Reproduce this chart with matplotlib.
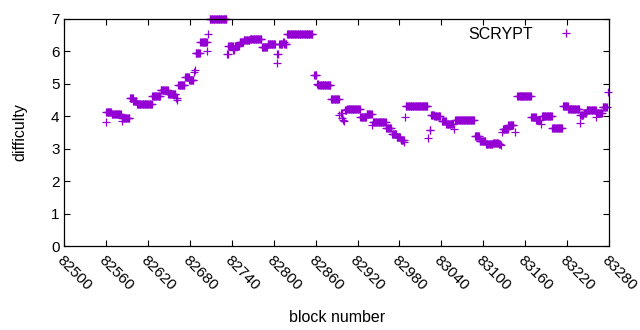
import numpy as np
import matplotlib
matplotlib.use("Agg")
import matplotlib.pyplot as plt

plt.rcParams['font.family'] = ['Liberation Sans', 'DejaVu Sans']

# difficulty stays flat over runs of blocks: first block, last block, difficulty
seg_start = [82559, 82560, 82568, 82582, 82583, 82594, 82599, 82604, 82626, 82638,
             82649, 82660, 82662, 82663, 82673, 82679, 82686, 82687, 82688, 82695,
             82705, 82706, 82708, 82733, 82735, 82742, 82744, 82751, 82757, 82766,
             82783, 82791, 82804, 82805, 82808, 82813, 82815, 82819, 82858, 82862,
             82864, 82882, 82894, 82896, 82898, 82899, 82901, 82902, 82905, 82924,
             82933, 82941, 82942, 82961, 82969, 82976, 82982, 82987, 82988, 82989,
             83021, 83023, 83025, 83030, 83041, 83047, 83058, 83060, 83088, 83095,
             83104, 83114, 83122, 83126, 83127, 83128, 83136, 83145, 83149, 83169,
             83176, 83183, 83184, 83199, 83214, 83222, 83238, 83239, 83244, 83248,
             83262, 83263, 83271, 83279]
seg_end = [82559, 82567, 82581, 82582, 82593, 82598, 82603, 82625, 82637, 82648,
           82659, 82661, 82662, 82672, 82678, 82685, 82686, 82687, 82694, 82704,
           82705, 82706, 82732, 82734, 82741, 82743, 82750, 82756, 82765, 82782,
           82790, 82802, 82804, 82806, 82812, 82814, 82818, 82855, 82861, 82863,
           82881, 82893, 82894, 82897, 82898, 82899, 82901, 82904, 82923, 82932,
           82940, 82941, 82960, 82968, 82975, 82981, 82986, 82987, 82988, 83020,
           83021, 83024, 83029, 83038, 83046, 83056, 83058, 83087, 83094, 83103,
           83113, 83121, 83124, 83126, 83127, 83135, 83143, 83145, 83168, 83175,
           83181, 83183, 83198, 83213, 83221, 83237, 83238, 83243, 83247, 83261,
           83262, 83270, 83277, 83279]
seg_diff = [3.81, 4.13, 4.06, 3.84, 3.94, 4.56, 4.46, 4.38, 4.63, 4.82,
            4.68, 4.56, 4.50, 4.97, 5.21, 5.11, 5.35, 5.43, 5.95, 6.29,
            6.02, 6.54, 7.00, 5.91, 6.16, 6.05, 6.16, 6.30, 6.34, 6.38,
            6.14, 6.22, 5.64, 5.92, 6.22, 6.28, 6.22, 6.53, 5.27, 5.00,
            4.96, 4.53, 4.04, 4.10, 3.95, 3.89, 3.84, 4.18, 4.22, 3.99,
            4.07, 3.73, 3.83, 3.63, 3.45, 3.37, 3.27, 3.20, 3.99, 4.32,
            3.32, 3.58, 4.05, 4.01, 3.84, 3.76, 3.60, 3.87, 3.40, 3.24,
            3.15, 3.19, 3.15, 3.10, 3.53, 3.60, 3.73, 3.51, 4.63, 3.97,
            3.90, 3.77, 4.01, 3.63, 4.32, 4.22, 3.79, 4.04, 4.10, 4.18,
            3.97, 4.10, 4.30, 4.76]

xticks = [82500, 82560, 82620, 82680, 82740, 82800, 82860, 82920,
          82980, 83040, 83100, 83160, 83220, 83280]

blocks = []
diffs = []
for s, e, d in zip(seg_start, seg_end, seg_diff):
    for b in range(s, e + 1):
        blocks.append(b)
        diffs.append(d)

fig = plt.figure(figsize=(6.4, 3.3), dpi=100)
ax = fig.add_axes([0.1005, 0.2545, 0.851, 0.688])

ax.plot(blocks, diffs, linestyle='none', marker='+', color='#9400d3',
        markersize=5.5, markeredgewidth=0.9, label='SCRYPT', clip_on=False)

ax.set_xlim(82500, 83280)
ax.set_ylim(0, 7)
ax.set_xticks(xticks)
ax.set_xticklabels([str(t) for t in xticks], rotation=-45, ha='left',
                   va='top', rotation_mode='anchor')
ax.set_yticks(range(0, 8))
ax.tick_params(direction='in', top=True, right=True, length=4, width=0.8,
               labelsize=11, colors='black')
ax.tick_params(axis='x', pad=5)
for sp in ax.spines.values():
    sp.set_linewidth(0.9)

ax.set_xlabel('block number', fontsize=11.5, labelpad=12)
ax.set_ylabel('difficulty', fontsize=11.5, labelpad=17)

ax.legend(loc='upper right', bbox_to_anchor=(0.971, 1.016), frameon=False,
          markerfirst=False, fontsize=11.5, handlelength=2.0,
          handletextpad=1.1, borderaxespad=0.3)

fig.savefig('out.png', dpi=100)
